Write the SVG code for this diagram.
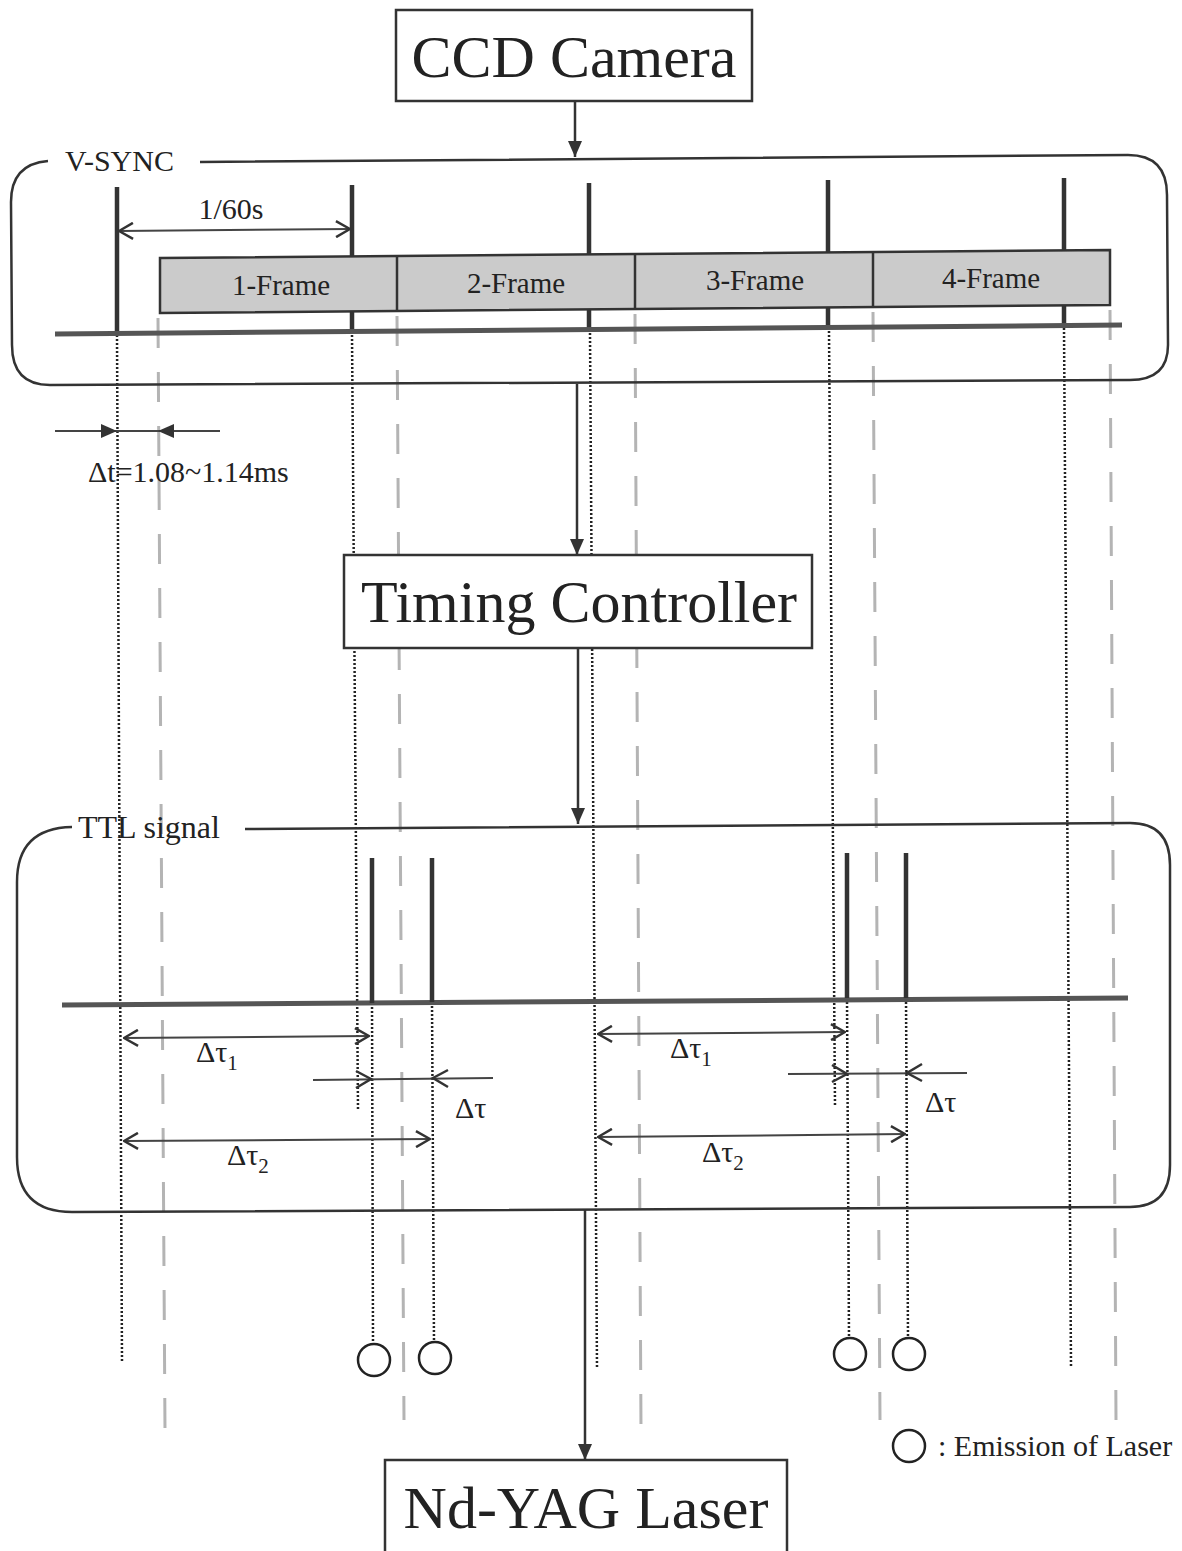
<svg xmlns="http://www.w3.org/2000/svg" width="1182" height="1551" viewBox="0 0 1182 1551">
<style>
.t{font-family:"Liberation Serif","Times New Roman",serif;fill:#222}
.big{font-size:60px}
.sm{font-size:30px}
.fr{font-size:29px}
.box{fill:#fff;stroke:#333;stroke-width:2.5}
.outline{fill:none;stroke:#333;stroke-width:2.5}
.conn{stroke:#333;stroke-width:2.5;fill:none}
.pulse{stroke:#333;stroke-width:4.5;fill:none}
.tl{stroke:#555;stroke-width:5;fill:none}
.dot{stroke:#222;stroke-width:2.5;stroke-dasharray:2 2;fill:none}
.gdash{stroke:#b4b4b4;stroke-width:3;stroke-dasharray:30 24;fill:none}
.dim{stroke:#444;stroke-width:2;fill:none}
.head{stroke:#333;stroke-width:2.5;fill:none}
.circ{fill:none;stroke:#222;stroke-width:2.5}
.frame{fill:#cbcbcb;stroke:#333;stroke-width:2.5}
</style>
<defs>
<marker id="tri" viewBox="0 0 16 14" refX="16" refY="7" markerWidth="16" markerHeight="14" markerUnits="userSpaceOnUse" orient="auto">
<path d="M0,0 L16,7 L0,14 z" fill="#333"/>
</marker>
<marker id="open" viewBox="0 0 16 18" refX="15" refY="9" markerWidth="16" markerHeight="18" markerUnits="userSpaceOnUse" orient="auto-start-reverse">
<path d="M1,1 L15,9 L1,17" fill="none" stroke="#333" stroke-width="2.5"/>
</marker>
</defs>

<!-- gray frame-boundary lines -->
<g id="frame-guides">
<line class="gdash" x1="158" y1="318" x2="165" y2="1432"/>
<line class="gdash" x1="397" y1="316" x2="404" y2="1420"/>
<line class="gdash" x1="635" y1="314" x2="641" y2="1430"/>
<line class="gdash" x1="873" y1="312" x2="880" y2="1420"/>
<line class="gdash" x1="1110" y1="310" x2="1116" y2="1420"/>
</g>

<!-- black dotted projection lines -->
<g id="dotted-guides">
<line class="dot" x1="117" y1="335" x2="122" y2="1362"/>
<line class="dot" x1="352" y1="335" x2="358" y2="1110"/>
<line class="dot" x1="590" y1="333" x2="597" y2="1368"/>
<line class="dot" x1="829" y1="331" x2="835" y2="1106"/>
<line class="dot" x1="1064" y1="328" x2="1071" y2="1366"/>
<line class="dot" x1="372" y1="1003" x2="373" y2="1344"/>
<line class="dot" x1="432" y1="1002" x2="434" y2="1342"/>
<line class="dot" x1="847" y1="998" x2="849" y2="1338"/>
<line class="dot" x1="906" y1="998" x2="908" y2="1338"/>
</g>

<!-- CCD Camera -->
<g id="ccd-camera">
<rect class="box" x="396" y="10" width="356" height="91"/>
<text class="t big" x="574" y="77" text-anchor="middle">CCD Camera</text>
</g>

<!-- V-SYNC group -->
<g id="v-sync">
<path class="outline" d="M200,162 L1128,155 Q1167,155 1167,195 L1168,345 Q1168,380 1130,380 L50,385 Q12,385 12,345 L11,202 Q11,164 48,161"/>
<text class="t sm" x="65" y="171">V-SYNC</text>
<line class="pulse" x1="117" y1="187" x2="117" y2="333"/>
<line class="pulse" x1="352" y1="185" x2="352" y2="332"/>
<line class="pulse" x1="589" y1="183" x2="589" y2="330"/>
<line class="pulse" x1="828" y1="180" x2="828" y2="328"/>
<line class="pulse" x1="1064" y1="178" x2="1064" y2="326"/>
<line class="tl" x1="55" y1="334" x2="1122" y2="325"/>
<polygon class="frame" points="160,258 1110,250 1110,305 160,313"/>
<line class="conn" x1="397" y1="256" x2="397" y2="311"/>
<line class="conn" x1="635" y1="254" x2="635" y2="309"/>
<line class="conn" x1="873" y1="252" x2="873" y2="307"/>
<text class="t fr" x="281" y="295" text-anchor="middle">1-Frame</text>
<text class="t fr" x="516" y="293" text-anchor="middle">2-Frame</text>
<text class="t fr" x="755" y="290" text-anchor="middle">3-Frame</text>
<text class="t fr" x="991" y="288" text-anchor="middle">4-Frame</text>
<line class="dim" x1="119" y1="231" x2="350" y2="229" marker-start="url(#open)" marker-end="url(#open)"/>
<text class="t sm" x="231" y="219" text-anchor="middle">1/60s</text>
</g>

<!-- delta t -->
<g id="delta-t">
<line class="dim" x1="55" y1="431" x2="117" y2="431" marker-end="url(#tri)"/>
<line class="dim" x1="117" y1="431" x2="158" y2="431"/>
<line class="dim" x1="220" y1="431" x2="158" y2="431" marker-end="url(#tri)"/>
<text class="t sm" x="88" y="482">Δt=1.08~1.14ms</text>
</g>

<!-- Timing Controller -->
<g id="timing-controller">
<rect class="box" x="344" y="555" width="468" height="93"/>
<text class="t big" x="579" y="622" text-anchor="middle">Timing Controller</text>
</g>

<!-- TTL signal group -->
<g id="ttl-signal">
<path class="outline" d="M245,829 L1130,823 Q1170,823 1170,865 L1170,1165 Q1170,1207 1130,1207 L72,1212 Q17,1212 17,1157 L17,882 Q17,828 72,827"/>
<text class="t" font-size="32" x="78" y="838">TTL signal</text>
<line class="tl" x1="62" y1="1005" x2="1128" y2="998"/>
<line class="pulse" x1="372" y1="858" x2="372" y2="1003"/>
<line class="pulse" x1="432" y1="858" x2="432" y2="1002"/>
<line class="pulse" x1="847" y1="853" x2="847" y2="998"/>
<line class="pulse" x1="906" y1="853" x2="906" y2="998"/>

<line class="dim" x1="124" y1="1038" x2="369" y2="1036" marker-start="url(#open)" marker-end="url(#open)"/>
<text class="t sm" x="196" y="1062">Δτ<tspan font-size="21" dy="8">1</tspan></text>
<line class="dim" x1="313" y1="1080" x2="493" y2="1078"/>
<polyline class="head" points="356,1071 371,1079 356,1088"/>
<polyline class="head" points="448,1070 433,1078 448,1087"/>
<text class="t sm" x="455" y="1118">Δτ</text>
<line class="dim" x1="124" y1="1141" x2="430" y2="1139" marker-start="url(#open)" marker-end="url(#open)"/>
<text class="t sm" x="227" y="1165">Δτ<tspan font-size="21" dy="8">2</tspan></text>

<line class="dim" x1="598" y1="1034" x2="845" y2="1032" marker-start="url(#open)" marker-end="url(#open)"/>
<text class="t sm" x="670" y="1058">Δτ<tspan font-size="21" dy="8">1</tspan></text>
<line class="dim" x1="788" y1="1074" x2="967" y2="1073"/>
<polyline class="head" points="832,1065 847,1074 832,1082"/>
<polyline class="head" points="922,1064 907,1073 922,1081"/>
<text class="t sm" x="925" y="1112">Δτ</text>
<line class="dim" x1="598" y1="1137" x2="905" y2="1134" marker-start="url(#open)" marker-end="url(#open)"/>
<text class="t sm" x="702" y="1162">Δτ<tspan font-size="21" dy="8">2</tspan></text>
</g>

<!-- laser emissions -->
<g id="emissions">
<circle class="circ" cx="374" cy="1360" r="16"/>
<circle class="circ" cx="435" cy="1358" r="16"/>
<circle class="circ" cx="850" cy="1354" r="16"/>
<circle class="circ" cx="909" cy="1354" r="16"/>
</g>

<!-- Nd-YAG Laser -->
<g id="nd-yag-laser">
<rect class="box" x="385" y="1460" width="402" height="100"/>
<text class="t big" x="586" y="1528" text-anchor="middle">Nd-YAG Laser</text>
</g>

<!-- legend -->
<g id="legend">
<circle class="circ" cx="909" cy="1446" r="16"/>
<text class="t sm" x="938" y="1456">: Emission of Laser</text>
</g>

<!-- connectors -->
<g id="connectors">
<line class="conn" x1="575" y1="101" x2="575" y2="157" marker-end="url(#tri)"/>
<line class="conn" x1="577" y1="384" x2="577" y2="555" marker-end="url(#tri)"/>
<line class="conn" x1="578" y1="648" x2="578" y2="824" marker-end="url(#tri)"/>
<line class="conn" x1="585" y1="1210" x2="585" y2="1460" marker-end="url(#tri)"/>
</g>
</svg>
